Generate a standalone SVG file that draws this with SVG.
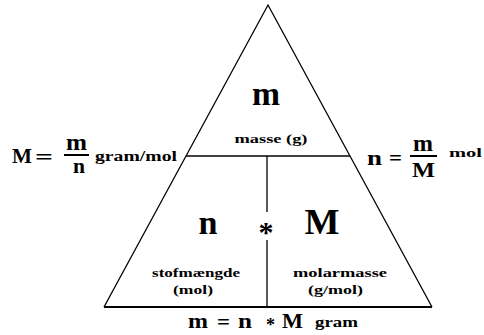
<svg xmlns="http://www.w3.org/2000/svg" width="484" height="335" viewBox="0 0 484 335">
<style>
text{font-family:"Liberation Serif","Times New Roman",serif;font-weight:bold;fill:#000}
.ln{stroke:#000;fill:none}
.mid{text-anchor:middle}
</style>
<rect width="484" height="335" fill="#fff"/>
<g id="connectors">
<path class="ln" stroke-width="1.3" d="M104,307 L268,5 L432,307"/>
<path class="ln" stroke-width="2" d="M104,307 H432"/>
<path class="ln" stroke-width="1.3" d="M186,156 H350"/>
<path class="ln" stroke-width="1.3" d="M267,156 V212 M267,240 V307"/>
</g>
<g id="top-m">
<text x="266" y="105" font-size="34" class="mid" textLength="28" lengthAdjust="spacingAndGlyphs">m</text>
<text x="271" y="143" font-size="13" class="mid" textLength="73" lengthAdjust="spacingAndGlyphs">masse (g)</text>
</g>
<g id="left-n">
<text x="208" y="234" font-size="34" class="mid" textLength="19" lengthAdjust="spacingAndGlyphs">n</text>
<text x="196" y="277" font-size="13" class="mid" textLength="88" lengthAdjust="spacingAndGlyphs">stofmængde</text>
<text x="193" y="294" font-size="13" class="mid" textLength="40" lengthAdjust="spacingAndGlyphs">(mol)</text>
</g>
<g id="star">
<text x="266" y="242" font-size="30" class="mid">*</text>
</g>
<g id="right-M">
<text x="322" y="234" font-size="35" class="mid" textLength="35" lengthAdjust="spacingAndGlyphs">M</text>
<text x="340" y="277" font-size="13" class="mid" textLength="94" lengthAdjust="spacingAndGlyphs">molarmasse</text>
<text x="335.5" y="294" font-size="13" class="mid" textLength="55" lengthAdjust="spacingAndGlyphs">(g/mol)</text>
</g>
<g id="formula-left">
<text x="12" y="163" font-size="22" textLength="20" lengthAdjust="spacingAndGlyphs">M</text>
<text x="35" y="164" font-size="22" textLength="18" lengthAdjust="spacingAndGlyphs">=</text>
<text x="66" y="150" font-size="23" textLength="21" lengthAdjust="spacingAndGlyphs">m</text>
<path class="ln" stroke-width="2" d="M64,155 H89"/>
<text x="73" y="173" font-size="20" textLength="12" lengthAdjust="spacingAndGlyphs">n</text>
<text x="95" y="161" font-size="14" textLength="82" lengthAdjust="spacingAndGlyphs">gram/mol</text>
</g>
<g id="formula-right">
<text x="367" y="165" font-size="22" textLength="15" lengthAdjust="spacingAndGlyphs">n</text>
<text x="389" y="165" font-size="22" textLength="13" lengthAdjust="spacingAndGlyphs">=</text>
<text x="413" y="151" font-size="23" textLength="20" lengthAdjust="spacingAndGlyphs">m</text>
<path class="ln" stroke-width="2" d="M410,156 H437"/>
<text x="412" y="177" font-size="21" textLength="23" lengthAdjust="spacingAndGlyphs">M</text>
<text x="449" y="157" font-size="13" textLength="33" lengthAdjust="spacingAndGlyphs">mol</text>
</g>
<g id="formula-bottom">
<text x="188" y="328" font-size="22" textLength="20" lengthAdjust="spacingAndGlyphs">m</text>
<text x="217" y="329" font-size="22" textLength="13" lengthAdjust="spacingAndGlyphs">=</text>
<text x="238" y="328" font-size="22" textLength="14" lengthAdjust="spacingAndGlyphs">n</text>
<text x="270.5" y="331" font-size="18" class="mid">*</text>
<text x="282" y="328" font-size="21" textLength="21" lengthAdjust="spacingAndGlyphs">M</text>
<text x="315" y="327" font-size="14" textLength="43" lengthAdjust="spacingAndGlyphs">gram</text>
</g>
</svg>
